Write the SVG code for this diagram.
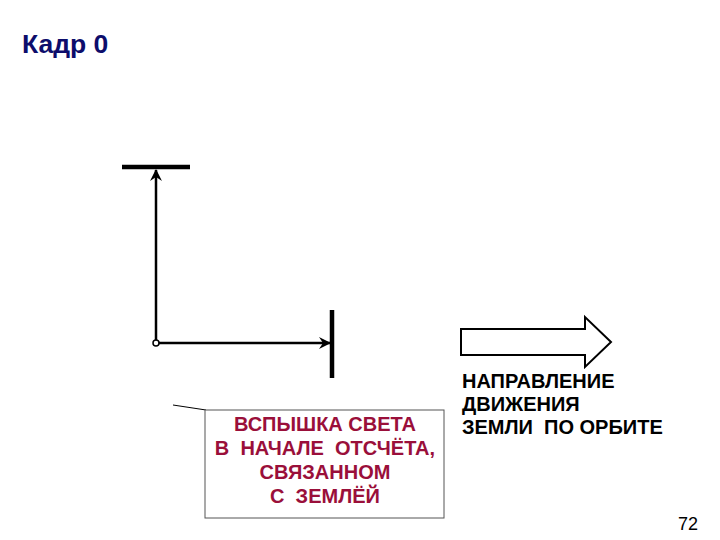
<svg xmlns="http://www.w3.org/2000/svg" width="720" height="540" viewBox="0 0 720 540">
<style>
.t{font-family:"Liberation Sans",Arial,sans-serif;font-weight:bold}
.ray{stroke:#000;stroke-width:2.5;fill:none}
.mir{stroke:#000;stroke-width:4.5}
</style>
<defs>
<marker id="ah" viewBox="0 0 12 12" refX="11" refY="6" markerWidth="12" markerHeight="12" markerUnits="userSpaceOnUse" orient="auto">
<path d="M0,0 L12,6 L0,12 L4,6 Z" fill="#000"/>
</marker>
</defs>
<rect width="720" height="540" fill="#fff"/>
<text class="t" x="22" y="53" font-size="26.5" fill="#0d0d6b">Кадр 0</text>
<g id="mirror-top"><line class="mir" x1="122" y1="167" x2="190" y2="167"/></g>
<g id="mirror-right"><line class="mir" x1="332" y1="310" x2="332" y2="378"/></g>
<g id="connectors">
<line class="ray" x1="156" y1="343" x2="156" y2="170" marker-end="url(#ah)"/>
<line class="ray" x1="156" y1="343" x2="330" y2="343" marker-end="url(#ah)"/>
<line x1="173" y1="405" x2="206" y2="410" stroke="#000" stroke-width="1"/>
</g>
<g id="source"><circle cx="156" cy="343" r="3" fill="#fff" stroke="#000" stroke-width="1.5"/></g>
<g id="callout">
<rect x="205" y="410" width="239" height="108" fill="#fff" stroke="#555" stroke-width="1"/>
<g class="t" font-size="20" fill="#9a0f3a" text-anchor="middle">
<text x="325" y="431">ВСПЫШКА СВЕТА</text>
<text x="325" y="455">В&#160; НАЧАЛЕ&#160; ОТСЧЁТА,</text>
<text x="325" y="479">СВЯЗАННОМ</text>
<text x="325" y="503">С&#160; ЗЕМЛЁЙ</text>
</g>
</g>
<g id="direction">
<path d="M461,329 L585,329 L585,317 L611,342 L585,367 L585,355 L461,355 Z" fill="#fff" stroke="#000" stroke-width="2"/>
<g class="t" font-size="20" fill="#000">
<text x="462" y="388">НАПРАВЛЕНИЕ</text>
<text x="462" y="411">ДВИЖЕНИЯ</text>
<text x="462" y="434">ЗЕМЛИ&#160; ПО ОРБИТЕ</text>
</g>
</g>
<text x="698" y="530" font-family="Liberation Sans,Arial,sans-serif" font-size="18" text-anchor="end" fill="#000">72</text>
</svg>
